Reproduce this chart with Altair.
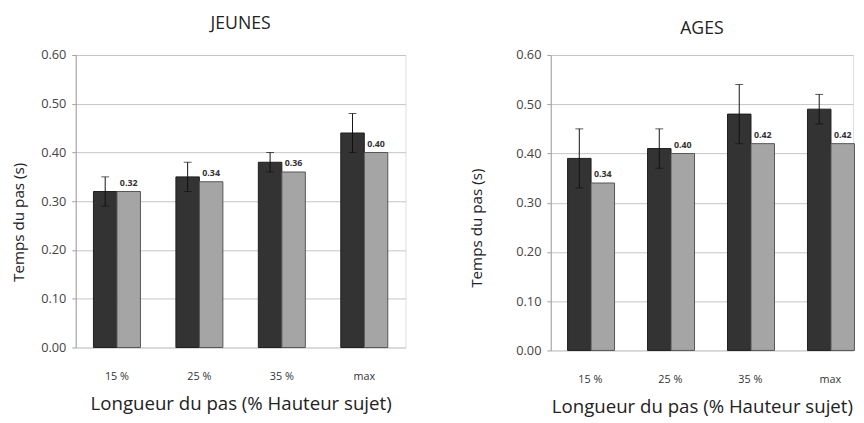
import altair as alt
import pandas as pd

cats = ["15 %", "25 %", "35 %", "max"]
series = ["mesuré", "estimé"]

jeunes_dark = [0.32, 0.35, 0.38, 0.44]
jeunes_lo = [0.29, 0.32, 0.36, 0.40]
jeunes_hi = [0.35, 0.38, 0.40, 0.48]
jeunes_gray = [0.32, 0.34, 0.36, 0.40]

ages_dark = [0.39, 0.41, 0.48, 0.49]
ages_lo = [0.33, 0.37, 0.42, 0.46]
ages_hi = [0.45, 0.45, 0.54, 0.52]
ages_gray = [0.34, 0.40, 0.42, 0.42]

FONT = "Open Sans"


def frames(dark, lo, hi, gray):
    bars = pd.DataFrame({
        "cat": cats * 2,
        "serie": [series[0]] * 4 + [series[1]] * 4,
        "val": dark + gray,
    })
    err = pd.DataFrame({"cat": cats, "serie": [series[0]] * 4, "lo": lo, "hi": hi})
    lab = pd.DataFrame({"cat": cats, "serie": [series[1]] * 4, "val": gray})
    return bars, err, lab


def panel(title, dark, lo, hi, gray, width, height, xscale, title_offset, title_x, title_y):
    bars, err, lab = frames(dark, lo, hi, gray)
    x = alt.X("cat:N", sort=cats, scale=xscale,
              axis=alt.Axis(title="Longueur du pas (% Hauteur sujet)", labelAngle=0,
                            ticks=False, domain=False, labelPadding=24, titlePadding=13,
                            labelFontSize=11, labelColor="#333333", titleFontSize=19,
                            titleFontWeight="normal", titleColor="#222222",
                            labelFont=FONT, titleFont=FONT))
    xo = alt.XOffset("serie:N", sort=series, scale=alt.Scale(domain=series, paddingInner=0, paddingOuter=0))
    y = alt.Y("val:Q", scale=alt.Scale(domain=[0, 0.6], nice=False),
              axis=alt.Axis(title="Temps du pas (s)", format=".2f", values=[0, 0.1, 0.2, 0.3, 0.4, 0.5, 0.6],
                            tickSize=4, tickColor="#a0a0a0", domainColor="#a0a0a0",
                            gridColor="#c4c4c4", labelPadding=6, labelFontSize=13,
                            labelColor="#444444", titleFontSize=15.5, titleFontWeight="normal",
                            titleColor="#222222", titleX=title_x, titleY=title_y,
                            labelFont=FONT, titleFont=FONT))
    color = alt.Color("serie:N", sort=series,
                      scale=alt.Scale(domain=series, range=["#333333", "#a5a5a5"]), legend=None)
    stroke = alt.Stroke("serie:N", sort=series,
                        scale=alt.Scale(domain=series, range=["#1e1e1e", "#555555"]), legend=None)
    b = alt.Chart(bars).mark_bar(strokeWidth=1).encode(x=x, xOffset=xo, y=y, color=color, stroke=stroke)
    rule = alt.Chart(err).mark_rule(color="#111111", strokeWidth=1).encode(
        x=alt.X("cat:N", sort=cats), xOffset=alt.XOffset("serie:N", sort=series),
        y=alt.Y("lo:Q"), y2="hi:Q")
    cap_hi = alt.Chart(err).mark_tick(color="#111111", thickness=1, size=8, orient="horizontal").encode(
        x=alt.X("cat:N", sort=cats), xOffset=alt.XOffset("serie:N", sort=series), y=alt.Y("hi:Q"))
    cap_lo = alt.Chart(err).mark_tick(color="#111111", thickness=1, size=8, orient="horizontal").encode(
        x=alt.X("cat:N", sort=cats), xOffset=alt.XOffset("serie:N", sort=series), y=alt.Y("lo:Q"))
    txt = alt.Chart(lab).mark_text(fontSize=9, fontWeight="bold", color="#333333", dy=-9, font=FONT).encode(
        x=alt.X("cat:N", sort=cats), xOffset=alt.XOffset("serie:N", sort=series), y=alt.Y("val:Q"),
        text=alt.Text("val:Q", format=".2f"))
    return alt.layer(b, rule, cap_hi, cap_lo, txt).properties(
        width=width, height=height,
        title=alt.TitleParams(title, fontSize=18, fontWeight="normal", font=FONT, color="#222222",
                              offset=title_offset))


left = panel("JEUNES", jeunes_dark, jeunes_lo, jeunes_hi, jeunes_gray, 336, 298,
             alt.Scale(paddingInner=0.43, paddingOuter=0.215), 16, -50, 170)
right = panel("AGES", ages_dark, ages_lo, ages_hi, ages_gray, 308, 301,
              alt.Scale(paddingInner=0.43, paddingOuter=0.105, align=1), 11, -68, 176)

chart = alt.hconcat(left, right, spacing=63).properties(
    padding={"left": 3, "top": 3, "right": 0, "bottom": 0}
).configure_view(stroke=None).configure(background="white")

chart.save("out.html", embed_options={"renderer": "svg", "actions": False})
